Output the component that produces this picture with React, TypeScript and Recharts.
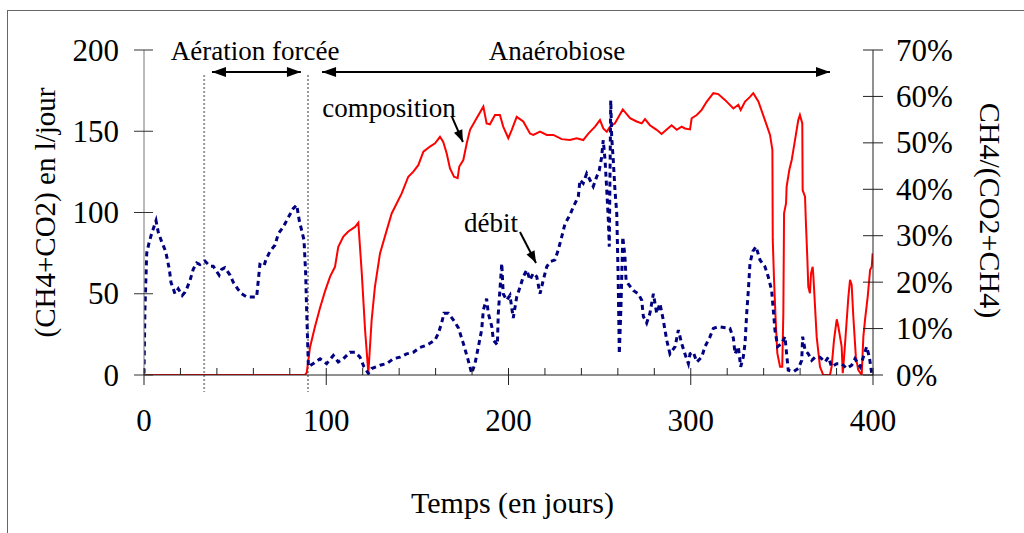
import React from 'react';
import { ComposedChart, Line, XAxis, YAxis, ReferenceLine, ReferenceDot } from 'recharts';

const FONT = "'Liberation Serif', 'Times New Roman', serif";

// Débit (CH4+CO2) en l/jour — left axis
const debitDays = [0, 0.5, 1.5, 2.9, 4.2, 6.6, 7.8, 9.7, 11.9, 13.9, 14.8, 16.1, 17, 18.8, 21, 22.5, 23.4, 25.2, 27, 28.9, 30.7, 33.5, 36.2, 38, 41.2, 42.6, 44.4, 47.2, 49, 51.4, 53.6, 56.4, 61.8, 62.7, 63.6, 65.8, 66.9, 69.1, 71.9, 73.7, 76.4, 79.2, 81.9, 83.8, 85.2, 86.5, 87.8, 88.7, 89.3, 90.2, 92.9, 96.6, 100.2, 103.9, 106.6, 109.4, 113, 115.8, 118.5, 120.7, 123.1, 124.9, 129.5, 133.2, 136.8, 140.5, 144.1, 147.8, 151.4, 154.2, 156.9, 159.7, 161.5, 163.3, 164.6, 167, 169.7, 172.5, 175.2, 177.9, 179.8, 181.6, 183.4, 185.3, 186.2, 188, 188.9, 190.8, 191.7, 193.9, 194.4, 196.3, 197.1, 199, 200.8, 202.6, 204.5, 206.3, 208.1, 210, 211.8, 213.6, 215.5, 217.3, 219.1, 221, 222.8, 225.5, 227.3, 229.2, 231, 233.7, 235.6, 238.3, 239.2, 241, 242.9, 244.7, 246.5, 248.4, 249.8, 251.1, 252, 253, 253.9, 254.8, 255.3, 256.1, 256.6, 257.5, 258.4, 259.4, 260.2, 260.8, 261.7, 262.7, 263.9, 264.5, 265.7, 268.5, 271.2, 273.1, 274, 275.8, 277.6, 279.5, 281.3, 283.1, 284.9, 286.8, 288.6, 291.4, 293.2, 295, 296.8, 298.7, 299.6, 301.4, 303.3, 306, 307.8, 310.6, 312.4, 315.1, 321.5, 323.4, 324.3, 326.1, 327.4, 328.8, 329.8, 330.7, 331.6, 332.5, 334, 335.8, 338, 340.7, 342.5, 344.4, 345.3, 346.2, 347.7, 349.9, 351.7, 352.6, 353.5, 356.3, 359, 360.9, 361.4, 362.7, 364.5, 366.4, 368.2, 370.9, 373.7, 375.5, 377.3, 380.1, 382.8, 385.6, 388.3, 390.1, 392.9, 394.7, 396.5, 398, 399.3];
const debitValues = [1, 40, 75, 82, 87, 95, 88, 82, 76, 65, 57, 53, 50, 53, 49, 51, 53, 58, 65, 69, 68, 70, 67, 67, 61.5, 65, 66, 61.5, 57, 53, 50, 48, 48, 58, 68, 67, 71, 76, 80, 87, 91, 97, 102.5, 104.6, 95, 89, 83, 62.6, 38, 5, 7, 10, 7, 12, 8, 10, 14, 14, 11, 5, 1, 4, 6, 7, 10, 11, 13, 14, 17, 18, 19.5, 21.5, 25.6, 32, 38, 38, 34, 29, 19.5, 9, 1, 7, 17, 28, 40, 47, 38, 30, 21.5, 18.5, 38, 68.7, 50, 46, 49, 35, 48, 54, 60.5, 64.6, 58.5, 62.6, 60.5, 50, 58.5, 66.7, 69.7, 70.8, 77, 85, 93, 98.5, 103.6, 109.7, 120, 118, 124, 120, 116, 122, 126, 134, 144.6, 132, 114, 95, 79, 169, 146.6, 132, 114, 99.5, 58.5, 13, 42, 85, 72.8, 58.5, 56, 52, 50, 46, 36, 32, 38, 50, 38, 44, 34, 21.5, 13, 17.4, 27.7, 19.5, 13, 7, 13, 14, 8, 11, 17.4, 23.6, 28.7, 29.7, 28.7, 22.6, 13, 17.4, 5, 11, 19.5, 38, 52, 68.7, 76, 79, 70.8, 66.7, 60.5, 52, 40, 27.7, 17.4, 19.5, 23.6, 13, 3, 2, 4, 9, 23.6, 15.4, 13, 9, 11, 11, 8, 11, 5, 7, 7, 4, 6, 10, 5, 11, 17.4, 11, 1];

// Composition CH4/(CO2+CH4) en % — right axis
const compDays = [0, 88.3, 89.3, 91.1, 93.8, 96.6, 99.3, 102.1, 104.8, 106.6, 109.4, 112.1, 115.8, 117.6, 119.5, 121.3, 123.1, 124.9, 126.7, 129.5, 133.2, 135.9, 138.7, 141.4, 145, 147.8, 150.5, 153.3, 156.9, 159.7, 162.4, 164.2, 166.1, 167.9, 170.1, 172.1, 173, 175.2, 177.1, 178.9, 182.5, 186.2, 188, 189.8, 192.6, 195.3, 197.1, 199.9, 201.8, 204.5, 208.1, 211.8, 213.6, 217.3, 221, 224.6, 229.2, 233.7, 237.4, 241, 243.8, 247.5, 250.2, 252, 253.9, 255.7, 258.4, 262.7, 266.7, 270.3, 273.1, 274.9, 277.6, 281.3, 284, 286.8, 289.5, 292.3, 295, 296.8, 299.6, 300.5, 303.3, 306, 308.8, 312.4, 315.1, 318.9, 323.4, 326.1, 327.4, 329.8, 332.5, 334.3, 337.1, 340.7, 343.5, 344.8, 345, 345.7, 346.6, 347.5, 349, 350.2, 350.8, 351.2, 352.3, 352.6, 354.1, 355.4, 357.2, 359, 359.9, 361.2, 361.4, 362.7, 363.2, 364, 364.5, 365.4, 366, 366.9, 367.3, 368.2, 369.1, 370.9, 372.7, 376.4, 377.3, 378.6, 380.1, 381, 382.8, 383.4, 384.3, 386.5, 387.4, 388.3, 389.2, 390.6, 391.9, 393.8, 394.7, 395.6, 397.1, 398.4, 399.3, 399.8];
const compValues = [0, 0, 0.5, 6, 10.4, 14.5, 18, 21.2, 23.3, 27.6, 29.8, 30.9, 31.9, 32.8, 21.9, 9.7, 0.4, 11.8, 19, 26.2, 31.2, 34.8, 37, 39.1, 42.7, 43.8, 45.2, 48.1, 49.2, 49.9, 51.3, 50.2, 47.7, 44.5, 42.7, 42.4, 44.9, 46.3, 49.9, 52.8, 55.3, 57.8, 54.2, 54, 56, 56, 53.5, 51, 52.8, 55.6, 54.6, 52, 51.7, 52.4, 51.7, 51.7, 50.8, 50.6, 51, 50.6, 52, 53.5, 54.9, 53.1, 52.4, 53.5, 54.2, 57.2, 55.3, 54.6, 54.2, 55.1, 53.8, 52.8, 51.9, 52.9, 53.8, 52.8, 53.5, 53.1, 52.9, 55.3, 56, 57.1, 58.9, 60.7, 60.5, 59.2, 57.4, 58.2, 57.1, 58.9, 59.9, 60.7, 58.9, 54.9, 51.7, 48.5, 29.1, 20.5, 11.8, 4.7, 1.8, 1.8, 13.3, 34.8, 37, 40.6, 44.2, 46.3, 50.6, 54.9, 56, 54.2, 39.8, 38.4, 32.7, 24.8, 19, 17.6, 21.9, 23.3, 21.2, 14.7, 8.2, 1.8, 0, 0, 1.8, 7.5, 12, 10.4, 6.1, 0.4, 4.7, 16.9, 20.5, 19.4, 12.6, 3.9, 1.1, 0, 8.2, 11.8, 16.9, 22.6, 23.3, 26.2];

const xTicks = [0, 20, 40, 60, 80, 100, 120, 140, 160, 180, 200, 220, 240, 260, 280, 300, 320, 340, 360, 380, 400];
const leftTicks = [0, 50, 100, 150, 200];
const rightTicks = [0, 10, 20, 30, 40, 50, 60, 70];

const debitData = debitDays.map((x, i) => ({ x, v: debitValues[i] }));
const compData = compDays.map((x, i) => ({ x, v: compValues[i] }));

const XTick = (p: any) => {
  const { x, y, payload } = p;
  const v = payload.value;
  const major = v % 100 === 0;
  return (
    <g>
      <line x1={x} x2={x} y1={y - 7} y2={major ? y + 10 : y} stroke="#222" strokeWidth={1} />
      {major && (
        <text x={x} y={y + 45} textAnchor="middle" dominantBaseline="central" fontFamily={FONT} fontSize={31} fill="#000">
          {v}
        </text>
      )}
    </g>
  );
};

const LeftTick = (p: any) => {
  const { x, y, payload } = p;
  return (
    <g>
      <line x1={x - 10} x2={x + 9} y1={y} y2={y} stroke="#333" strokeWidth={1} />
      <text x={x - 25} y={y} textAnchor="end" dominantBaseline="central" fontFamily={FONT} fontSize={31} fill="#000">
        {payload.value}
      </text>
    </g>
  );
};

const RightTick = (p: any) => {
  const { x, y, payload } = p;
  return (
    <g>
      <line x1={x - 10} x2={x + 10} y1={y} y2={y} stroke="#222" strokeWidth={1} />
      <text x={x + 23} y={y} textAnchor="start" dominantBaseline="central" fontFamily={FONT} fontSize={31} fill="#000">
        {`${payload.value}%`}
      </text>
    </g>
  );
};

const head = (tx: number, ty: number, fx: number, fy: number, len: number, half: number) => {
  const dx = tx - fx;
  const dy = ty - fy;
  const d = Math.sqrt(dx * dx + dy * dy) || 1;
  const ux = dx / d;
  const uy = dy / d;
  const bx = tx - ux * len;
  const by = ty - uy * len;
  return `${tx},${ty} ${bx - uy * half},${by + ux * half} ${bx + uy * half},${by - ux * half}`;
};

const DoubleArrow = (p: any) => {
  const { x1, y1, x2, y2 } = p;
  return (
    <g>
      <line x1={x1} y1={y1} x2={x2} y2={y2} stroke="#000" strokeWidth={2} />
      <polygon points={head(x1, y1, x2, y2, 14, 5)} fill="#000" />
      <polygon points={head(x2, y2, x1, y1, 14, 5)} fill="#000" />
    </g>
  );
};

const SingleArrow = (p: any) => {
  const { x1, y1, x2, y2 } = p;
  return (
    <g>
      <line x1={x1} y1={y1} x2={x2} y2={y2} stroke="#000" strokeWidth={2} />
      <polygon points={head(x2, y2, x1, y1, 12, 4.5)} fill="#000" />
    </g>
  );
};

const textMark = (text: string, size: number) => (p: any) => (
  <text x={p.cx} y={p.cy} textAnchor="middle" dominantBaseline="central" fontFamily={FONT} fontSize={size} fill="#000">
    {text}
  </text>
);

const LeftTitle = (p: any) => {
  const vb = p.viewBox || { x: 0, y: 50, width: 144, height: 325 };
  const cx = vb.x + 45;
  const cy = vb.y + vb.height / 2;
  return (
    <text x={cx} y={cy} transform={`rotate(-90 ${cx} ${cy})`} textAnchor="middle" dominantBaseline="central" fontFamily={FONT} fontSize={29} fill="#000">
      (CH4+CO2) en l/jour
    </text>
  );
};

const RightTitle = (p: any) => {
  const vb = p.viewBox || { x: 873, y: 50, width: 151, height: 325 };
  const cx = vb.x + 117;
  const cy = vb.y + vb.height / 2 - 2;
  return (
    <text x={cx} y={cy} transform={`rotate(90 ${cx} ${cy})`} textAnchor="middle" dominantBaseline="central" fontFamily={FONT} fontSize={30} fill="#000">
      CH4/(CO2+CH4)
    </text>
  );
};

const BottomTitle = (p: any) => {
  const vb = p.viewBox || { x: 144, y: 375, width: 729, height: 158 };
  const cx = vb.x + vb.width / 2 + 4;
  const cy = vb.y + 127;
  return (
    <text x={cx} y={cy} textAnchor="middle" dominantBaseline="central" fontFamily={FONT} fontSize={30} fill="#000">
      Temps (en jours)
    </text>
  );
};

export default function App() {
  return (
    <div style={{ position: 'fixed', left: 0, top: 0, width: 1024, height: 533, overflow: 'hidden', background: '#fff' }}>
      <div style={{ position: 'absolute', left: 7, top: 10, right: -10, bottom: -10, borderTop: '1px solid #666', borderLeft: '1px solid #666' }} />
      <div style={{ position: 'absolute', left: 0, top: 0 }}>
        <ComposedChart width={1024} height={533} margin={{ top: 50, right: 0, bottom: 0, left: 0 }}>
          <XAxis
            type="number"
            dataKey="x"
            domain={[0, 400]}
            ticks={xTicks}
            interval={0}
            tickSize={0}
            tickMargin={0}
            tickLine={false}
            axisLine={{ stroke: '#222' }}
            tick={(p: any) => <XTick {...p} />}
            height={158}
            allowDataOverflow
            label={{ content: (p: any) => <BottomTitle {...p} /> }}
          />
          <YAxis
            yAxisId="left"
            domain={[0, 200]}
            ticks={leftTicks}
            interval={0}
            width={144}
            tickSize={0}
            tickMargin={0}
            tickLine={false}
            axisLine={{ stroke: '#777' }}
            tick={(p: any) => <LeftTick {...p} />}
            allowDataOverflow
            label={{ content: (p: any) => <LeftTitle {...p} /> }}
          />
          <YAxis
            yAxisId="right"
            orientation="right"
            domain={[0, 70]}
            ticks={rightTicks}
            interval={0}
            width={151}
            tickSize={0}
            tickMargin={0}
            tickLine={false}
            axisLine={{ stroke: '#222' }}
            tick={(p: any) => <RightTick {...p} />}
            allowDataOverflow
            label={{ content: (p: any) => <RightTitle {...p} /> }}
          />
          <ReferenceLine
            yAxisId="left"
            segment={[{ x: 33, y: 184.6 }, { x: 33, y: -10.5 }]}
            stroke="#999"
            strokeWidth={2}
            strokeDasharray="2 2"
            ifOverflow="visible"
          />
          <ReferenceLine
            yAxisId="left"
            segment={[{ x: 90, y: 184.6 }, { x: 90, y: -10.5 }]}
            stroke="#999"
            strokeWidth={2}
            strokeDasharray="2 2"
            ifOverflow="visible"
          />
          <ReferenceLine yAxisId="left" segment={[{ x: 37.3, y: 186.5 }, { x: 86.1, y: 186.5 }]} ifOverflow="visible" shape={DoubleArrow} />
          <ReferenceLine yAxisId="left" segment={[{ x: 97.7, y: 186.5 }, { x: 376.4, y: 186.5 }]} ifOverflow="visible" shape={DoubleArrow} />
          <ReferenceLine yAxisId="left" segment={[{ x: 169, y: 158.8 }, { x: 175, y: 143.4 }]} ifOverflow="visible" shape={SingleArrow} />
          <ReferenceLine yAxisId="left" segment={[{ x: 206.3, y: 88 }, { x: 215.1, y: 68.9 }]} ifOverflow="visible" shape={SingleArrow} />
          <ReferenceDot yAxisId="left" x={61} y={199.4} ifOverflow="visible" shape={textMark('Aération forcée', 27)} />
          <ReferenceDot yAxisId="left" x={226.6} y={199.4} ifOverflow="visible" shape={textMark('Anaérobiose', 27)} />
          <ReferenceDot yAxisId="left" x={134.4} y={164.5} ifOverflow="visible" shape={textMark('composition', 27)} />
          <ReferenceDot yAxisId="left" x={190.4} y={93.8} ifOverflow="visible" shape={textMark('débit', 27)} />
          <Line
            yAxisId="right"
            data={compData}
            dataKey="v"
            type="linear"
            stroke="#ff0000"
            strokeWidth={2}
            dot={false}
            activeDot={false}
            isAnimationActive={false}
          />
          <Line
            yAxisId="left"
            data={debitData}
            dataKey="v"
            type="linear"
            stroke="#000080"
            strokeWidth={3}
            strokeDasharray="5 4"
            dot={false}
            activeDot={false}
            isAnimationActive={false}
          />
        </ComposedChart>
      </div>
    </div>
  );
}
